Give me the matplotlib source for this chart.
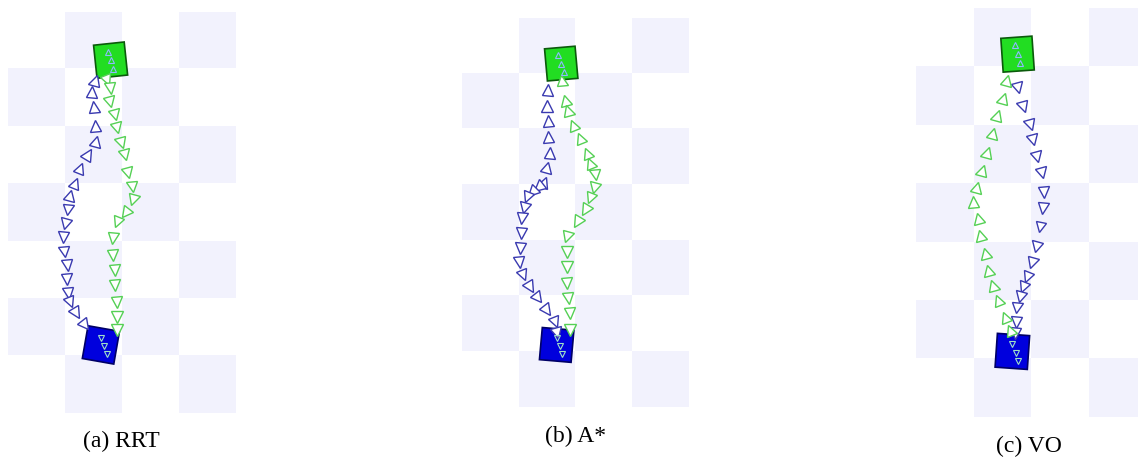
import numpy as np
import matplotlib.pyplot as plt
from matplotlib.markers import MarkerStyle
from matplotlib.transforms import Affine2D
from matplotlib.patches import Rectangle

W, H = 1138, 459

# board: 4 columns x 7 rows, coordinates in cell units, origin top-left
n_cols, n_rows = 4, 7
captions = ['(a) RRT', '(b) A*', '(c) VO']

# (a) RRT
rrt_blue_x = [1.53, 1.47, 1.51, 1.53, 1.54, 1.40, 1.26, 1.18, 1.09, 1.05, 1.00, 0.96, 0.98, 1.04, 1.04, 1.05, 1.09, 1.19, 1.35]
rrt_blue_y = [1.19, 1.40, 1.66, 1.99, 2.25, 2.48, 2.72, 2.98, 3.19, 3.46, 3.70, 3.93, 4.19, 4.42, 4.66, 4.90, 5.06, 5.25, 5.46]
rrt_blue_dir = [-1] * 9 + [1] * 10
rrt_green_x = [1.74, 1.79, 1.79, 1.88, 1.91, 1.98, 2.05, 2.11, 2.18, 2.19, 2.05, 1.91, 1.84, 1.84, 1.88, 1.88, 1.91, 1.91, 1.91]
rrt_green_y = [1.19, 1.33, 1.57, 1.80, 2.02, 2.29, 2.50, 2.81, 3.05, 3.28, 3.51, 3.66, 3.94, 4.24, 4.50, 4.76, 5.06, 5.32, 5.55]
rrt_green_dir = [1] * 19

# (b) A*
astar_blue_x = [1.52, 1.50, 1.52, 1.52, 1.55, 1.50, 1.45, 1.34, 1.23, 1.15, 1.09, 1.06, 1.04, 1.02, 1.01, 1.08, 1.20, 1.34, 1.50, 1.64, 1.68]
astar_blue_y = [1.29, 1.58, 1.85, 2.14, 2.43, 2.68, 2.95, 3.04, 3.13, 3.22, 3.42, 3.60, 3.87, 4.14, 4.39, 4.62, 4.84, 5.04, 5.25, 5.47, 5.67]
astar_blue_dir = [-1] * 7 + [1] * 14
astar_green_x = [1.76, 1.82, 1.87, 1.96, 2.08, 2.20, 2.26, 2.35, 2.33, 2.26, 2.17, 2.03, 1.85, 1.85, 1.85, 1.85, 1.87, 1.90, 1.90]
astar_green_y = [1.12, 1.47, 1.65, 1.92, 2.16, 2.43, 2.61, 2.82, 3.06, 3.24, 3.45, 3.67, 3.94, 4.21, 4.48, 4.77, 5.04, 5.31, 5.61]
astar_green_dir = [-1] * 7 + [1] * 12

# (c) VO
vo_blue_x = [1.77, 1.85, 1.98, 2.03, 2.10, 2.18, 2.22, 2.20, 2.15, 2.08, 2.01, 1.92, 1.85, 1.80, 1.75, 1.73, 1.72]
vo_blue_y = [1.37, 1.70, 2.00, 2.26, 2.55, 2.83, 3.15, 3.42, 3.75, 4.09, 4.37, 4.61, 4.78, 4.95, 5.14, 5.38, 5.57]
vo_blue_dir = [1] * 17
vo_green_x = [1.58, 1.51, 1.40, 1.33, 1.23, 1.14, 1.06, 0.99, 1.07, 1.11, 1.20, 1.25, 1.33, 1.42, 1.54, 1.63]
vo_green_y = [1.23, 1.54, 1.83, 2.14, 2.47, 2.77, 3.07, 3.32, 3.60, 3.89, 4.20, 4.49, 4.74, 5.00, 5.29, 5.51]
vo_green_dir = [-1] * 16

# goal squares: (x, y, angle)
green_goal = [(1.80, 0.84, -6), (1.75, 0.82, -5), (1.76, 0.79, -4)]
blue_goal = [(1.63, 5.81, 10), (1.67, 5.88, 5), (1.67, 5.88, 4)]

# axes boxes in pixels: left, top, cell width, cell height
boxes = [(8, 12, 57.0, 57.3), (462, 18, 56.7, 55.6), (916, 8, 57.7, 58.4)]
cap_pos = [(121, 441), (576, 436), (1029, 446)]

paths = [
    ((rrt_blue_x, rrt_blue_y, rrt_blue_dir), (rrt_green_x, rrt_green_y, rrt_green_dir)),
    ((astar_blue_x, astar_blue_y, astar_blue_dir), (astar_green_x, astar_green_y, astar_green_dir)),
    ((vo_blue_x, vo_blue_y, vo_blue_dir), (vo_green_x, vo_green_y, vo_green_dir)),
]

shade = '#f2f2fd'
blue_c = '#3a3ab0'
green_c = '#55d055'


def draw_path(ax, xs, ys, dirs, color):
    xs = np.array(xs)
    ys = np.array(ys)
    dx = np.gradient(xs)
    dy = np.gradient(ys)
    for x, y, ddx, ddy, d in zip(xs, ys, dx, dy, dirs):
        ang = np.degrees(np.arctan2(-ddy * d, ddx * d))
        m = MarkerStyle('^', transform=Affine2D().rotate_deg(ang - 90))
        ax.plot(x, y, linestyle='none', marker=m, markersize=8,
                markerfacecolor='white', markeredgecolor=color,
                markeredgewidth=1.0, zorder=3)


fig = plt.figure(figsize=(W / 100, H / 100), dpi=100)

for i in range(3):
    left, top, cw, ch = boxes[i]
    aw, ah = cw * n_cols, ch * n_rows
    ax = fig.add_axes([left / W, 1 - (top + ah) / H, aw / W, ah / H])
    board = np.array([[(r + c) % 2 for c in range(n_cols)] for r in range(n_rows)])
    ax.imshow(board, cmap=plt.matplotlib.colors.ListedColormap(['white', shade]),
              extent=(0, n_cols, n_rows, 0), interpolation='nearest', zorder=0)
    ax.set_xlim(0, n_cols)
    ax.set_ylim(n_rows, 0)
    ax.set_aspect('auto')
    ax.axis('off')

    gx, gy, ga = green_goal[i]
    ax.add_patch(Rectangle((gx - 0.27, gy - 0.29), 0.54, 0.58, angle=ga,
                           rotation_point='center', facecolor='#22dd22',
                           edgecolor='#0b5a0b', linewidth=1.2, zorder=2))
    bx, by, ba = blue_goal[i]
    ax.add_patch(Rectangle((bx - 0.28, by - 0.29), 0.56, 0.58, angle=ba,
                           rotation_point='center', facecolor='#0000dd',
                           edgecolor='#000066', linewidth=1.2, zorder=2))

    (b, g) = paths[i]
    draw_path(ax, *b, blue_c)
    draw_path(ax, *g, green_c)

    # robots piled up on their goals
    ax.plot([gx - 0.05, gx, gx + 0.05], [gy - 0.15, gy, gy + 0.15], linestyle='none',
            marker='^', markersize=5, markerfacecolor='none',
            markeredgecolor='#8fb8ff', markeredgewidth=0.8, zorder=4)
    ax.plot([bx, bx + 0.06, bx + 0.1], [by - 0.12, by + 0.02, by + 0.16], linestyle='none',
            marker='v', markersize=5, markerfacecolor='none',
            markeredgecolor='#9fe0c8', markeredgewidth=0.8, zorder=4)

    cx, cy = cap_pos[i]
    fig.text(cx / W, 1 - cy / H, captions[i], ha='center', va='center',
             family='Liberation Serif', fontsize=17)

fig.savefig('out.png', dpi=100)
